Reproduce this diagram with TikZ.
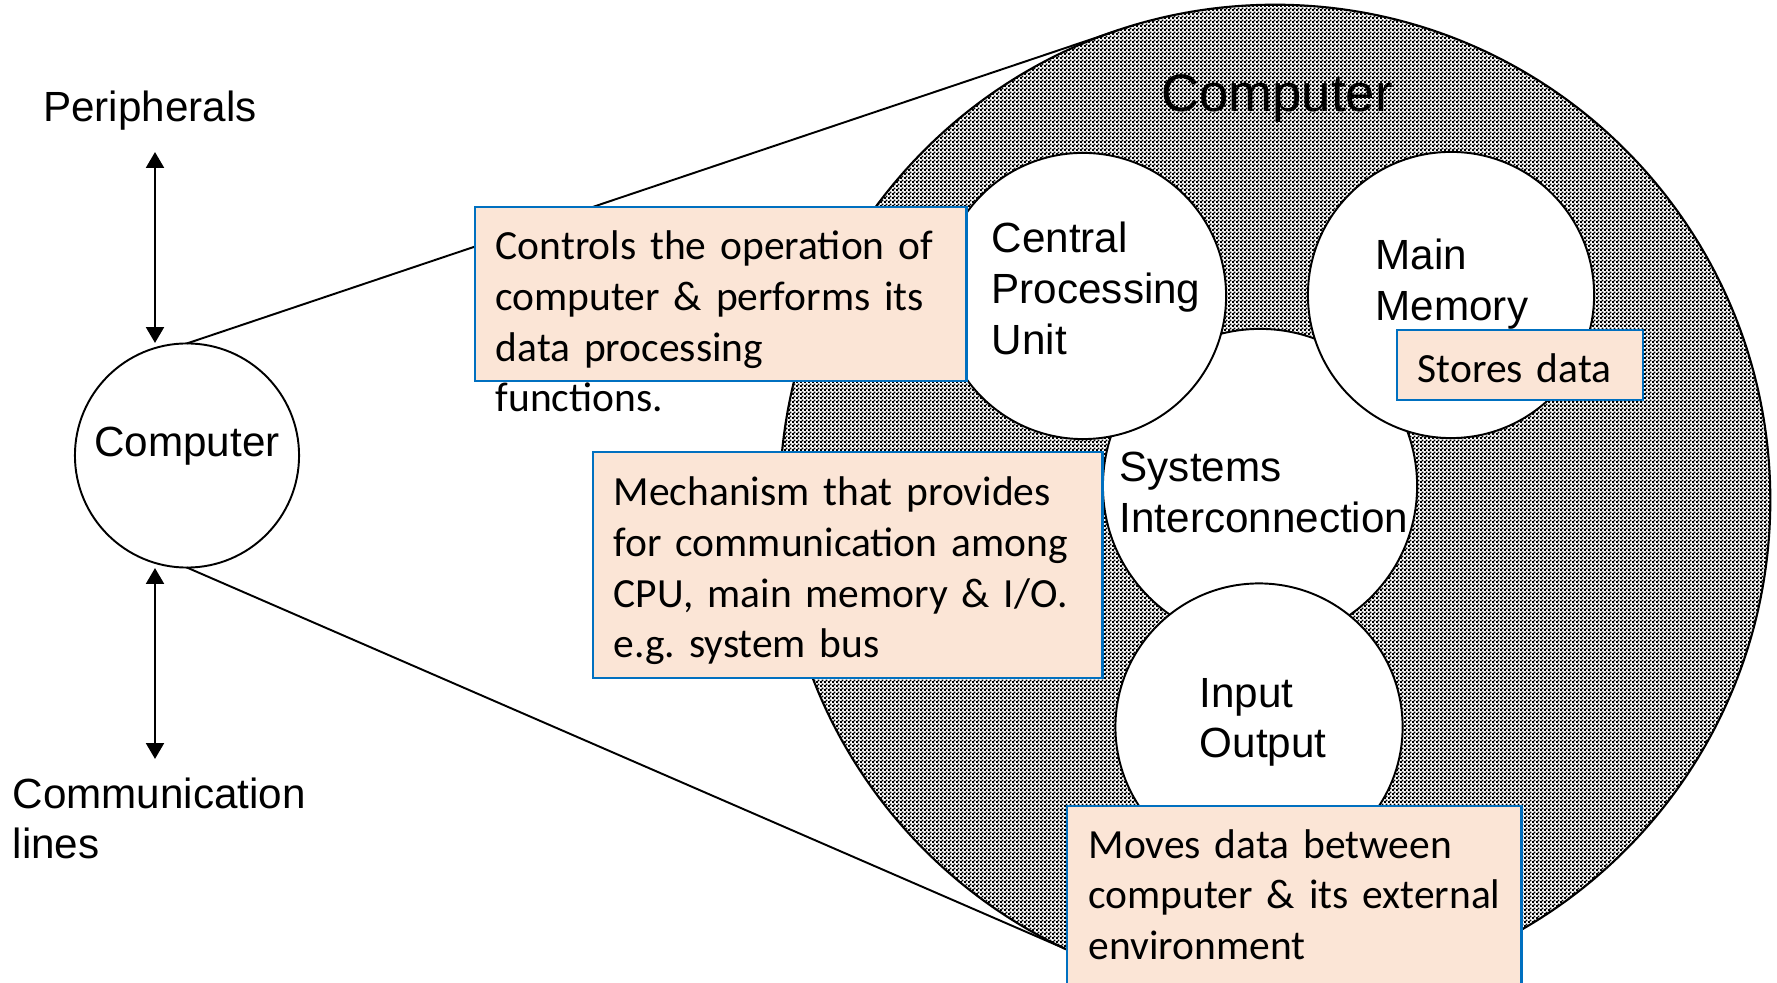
\documentclass[tikz,border=0pt]{standalone}
\usepackage{fontspec}
\setmainfont{Liberation Sans}
\newfontfamily\notefont{Carlito}
\usetikzlibrary{calc,arrows.meta,patterns}

% fine black/white checkerboard used for the computer's body
\pgfdeclarepatternformonly{finechecker}{\pgfpointorigin}{\pgfqpoint{1.138pt}{1.138pt}}{\pgfqpoint{1.138pt}{1.138pt}}{%
  \pgfpathrectangle{\pgfpointorigin}{\pgfqpoint{0.63pt}{0.63pt}}%
  \pgfpathrectangle{\pgfqpoint{0.569pt}{0.569pt}}{\pgfqpoint{0.63pt}{0.63pt}}%
  \pgfusepath{fill}}

\definecolor{notefill}{RGB}{251,229,214}
\definecolor{noteline}{RGB}{0,112,192}

\begin{document}
\frenchspacing
\begin{tikzpicture}[x=0.01cm,y=-0.01cm,
  unit/.style={circle,draw=black,fill=white,line width=0.55pt,inner sep=0pt,outer sep=0pt},
  note/.style={rectangle,draw=noteline,fill=notefill,line width=0.7pt,inner sep=0pt,outer sep=0pt,anchor=north west},
  notetext/.style={font=\notefont\fontsize{11.8}{14.4}\selectfont,align=left,anchor=base west,inner sep=0pt,text width=6cm},
  words/.style={font=\fontsize{12}{14.5}\selectfont,inner sep=0pt},
  wordlines/.style={words,align=left,anchor=base west,text width=6cm},
  link/.style={line width=0.55pt},
  flow/.style={line width=0.85pt,{Triangle[length=4.5pt,width=5pt]}-{Triangle[length=4.5pt,width=5pt]}}
]
\useasboundingbox (0,0) rectangle (1777,983);
\clip (0,0) rectangle (1777,983);

% the computer, enlarged
\node[circle,draw=black,line width=0.6pt,preaction={fill=white},pattern=finechecker,
      minimum size=9.9cm,inner sep=0pt,outer sep=0pt] (big) at (1275,500) {};
\node[font=\fontsize{15}{18}\selectfont,inner sep=0pt,anchor=base] (bigtitle) at (1277,112) {Computer};

% the computer as a single unit
\node[unit,minimum size=2.24cm] (comp) at (187,455.5) {};
\node[words,anchor=base] (comptext) at (187,457) {Computer};

% zoom lines from the unit to the enlarged view
\draw[link] (comp.north) -- (tangent cs:node=big,point={(comp.north)},solution=2);
\draw[link] (comp.south) -- (tangent cs:node=big,point={(comp.south)},solution=1);

% structural components
\node[unit,minimum size=3.14cm] (sys) at (1260,486) {};
\node[unit,minimum size=2.86cm] (cpu) at (1083,296) {};
\node[unit,minimum size=2.86cm] (mem) at (1451,295) {};
\node[unit,minimum size=2.87cm] (io) at (1259,727) {};

\node[wordlines] (cputext) at (991,253) {Central\\Processing\\Unit};
\node[wordlines] (memtext) at (1375,270) {Main\\Memory};
\node[wordlines] (systext) at (1119,482) {Systems\\Interconnection};
\node[wordlines] (iotext) at (1199,707) {Input\\Output};

% explanatory notes
\node[note,minimum width=4.91cm,minimum height=1.74cm] (cpunote) at (475,207) {};
\node[notetext] (cpunotetext) at (495,260) {Controls the operation of\\computer \& performs its\\data processing\\functions.};

\node[note,minimum width=5.09cm,minimum height=2.26cm] (sysnote) at (593,452) {};
\node[notetext] (sysnotetext) at (613,506) {Mechanism that provides\\for communication among\\CPU, main memory \& I/O.\\e.g. system bus};

\node[note,minimum width=4.54cm,minimum height=1.94cm] (ionote) at (1067,806) {};
\node[notetext] (ionotetext) at (1088,858) {Moves data between\\computer \& its external\\environment};

\node[note,minimum width=2.46cm,minimum height=0.70cm] (memnote) at (1397,330) {};
\node[notetext] (memnotetext) at (1417,383) {Stores data};

% external connections
\node[words,anchor=base] (periph) at (150,122) {Peripherals};
\node[wordlines] (commlines) at (12,808) {Communication\\lines};
\coordinate (upA) at (155,152);
\coordinate (upB) at (155,343);
\coordinate (dnA) at (155,568);
\coordinate (dnB) at (155,759);
\draw[flow] (upA) -- (upB);
\draw[flow] (dnA) -- (dnB);
\end{tikzpicture}
\end{document}
